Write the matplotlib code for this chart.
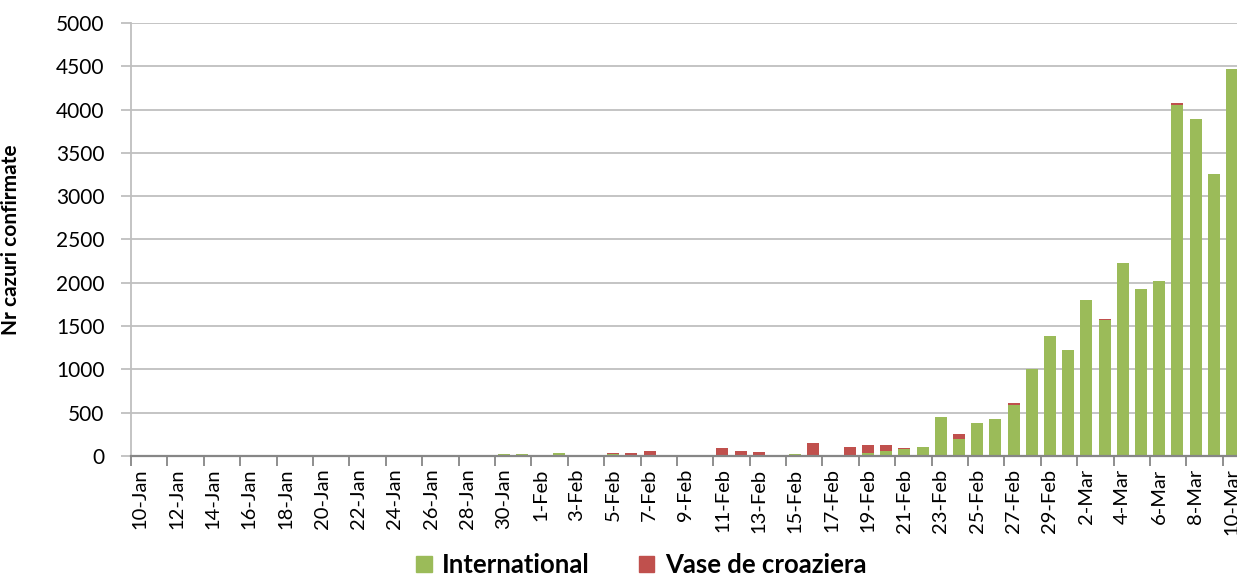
import matplotlib
matplotlib.use("Agg")
import matplotlib.pyplot as plt
import numpy as np
import pandas as pd
from matplotlib.patches import Patch
from matplotlib.ticker import FixedLocator, MultipleLocator

GREEN, RED = "#9BBB59", "#C0504D"
GRID_C, AXIS_C = "#BFBFBF", "#868686"

days = pd.date_range("2020-01-10", "2020-03-10", freq="D")
categories = [f"{d.day}-{d.strftime('%b')}" for d in days]

# confirmed cases per day (index 0 = 10-Jan)
international = [0] * 61
international[15] = 4
international[20:61] = [
    19, 19, 2, 30, 0, 0, 20, 5, 10, 3,
    8, 15, 15, 8, 5, 0, 19, 15, 10, 5,
    30, 54, 80, 108, 447, 196, 381, 431, 593, 1005,
    1382, 1224, 1806, 1570, 2225, 1929, 2017, 4054, 3889, 3253,
    4466,
]
cruise = [0] * 61
for i, v in {26: 10, 27: 25, 28: 45, 29: 3, 30: 6, 32: 72, 33: 45, 34: 37,
             37: 140, 39: 99, 40: 93, 41: 77, 42: 15, 45: 58, 48: 15,
             53: 9, 57: 23}.items():
    cruise[i] = v

plt.rcParams["font.family"] = ["Lato", "DejaVu Sans"]

fig = plt.figure(figsize=(12.37, 5.76), dpi=100)
ax = fig.add_axes([131 / 1237, 1 - 456 / 576, 1110 / 1237, 433 / 576])

x = np.arange(len(categories))
ax.bar(x, international, width=0.66, color=GREEN, zorder=3)
ax.bar(x, cruise, width=0.66, bottom=international, color=RED, zorder=3)

ax.set_xlim(-0.5, len(categories) - 0.5)
ax.set_ylim(0, 5000)
ax.yaxis.set_major_locator(MultipleLocator(500))
ax.grid(axis="y", color=GRID_C, lw=1.3, zorder=0)

ax.set_xticks(x[::2])
ax.set_xticklabels(categories[::2], rotation=90, fontsize=14.5)
ax.xaxis.set_minor_locator(FixedLocator(np.arange(-0.5, len(categories), 2)))
ax.tick_params(axis="x", which="major", length=0, pad=9)
ax.tick_params(axis="x", which="minor", length=7, width=1.3, color=AXIS_C)
ax.tick_params(axis="y", labelsize=15, length=7, width=1.3, color=GRID_C, pad=12)

for s in ("top", "right"):
    ax.spines[s].set_visible(False)
ax.spines["left"].set_color(GRID_C)
ax.spines["left"].set_linewidth(1.3)
ax.spines["bottom"].set_color(AXIS_C)
ax.spines["bottom"].set_linewidth(1.6)
ax.spines["bottom"].set_zorder(4)

ax.set_ylabel("Nr cazuri confirmate", fontsize=15, fontweight="bold")
ax.yaxis.set_label_coords(-0.099, 0.5)

handles = [Patch(color=GREEN, label="International"),
           Patch(color=RED, label="Vase de croaziera")]
fig.legend(handles=handles, loc="center", bbox_to_anchor=(641 / 1237, 1 - 565 / 576),
           ncol=2, frameon=False, prop={"weight": "bold", "size": 18.5},
           handlelength=0.62, handleheight=0.62, handletextpad=0.4, columnspacing=1.9,
           borderaxespad=0)

fig.savefig("out.png", dpi=100)
